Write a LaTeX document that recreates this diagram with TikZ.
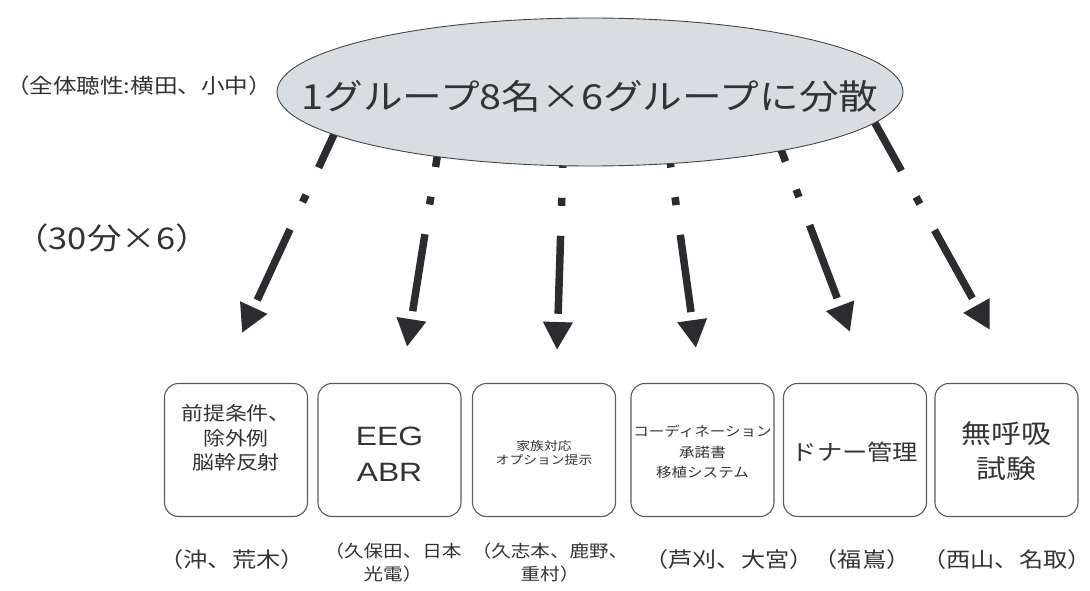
\documentclass[tikz,border=0pt]{standalone}
\usepackage{fontspec}
\setmainfont{Noto Sans CJK JP}[FakeStretch=1.15]
\newfontfamily\latinwide{Liberation Sans}[FakeStretch=1.2]
\usetikzlibrary{arrows.meta,shapes.geometric}
\definecolor{ink}{HTML}{333333}
\definecolor{arrowc}{HTML}{2B2B30}
\definecolor{efill}{HTML}{D7DDE1}
\definecolor{eline}{HTML}{454545}
\definecolor{boxline}{HTML}{5A5A5A}
\pgfdeclarelayer{behind}
\pgfsetlayers{behind,main}
\begin{document}
\begin{tikzpicture}[x=1pt,y=-1pt,
  box/.style={draw=boxline, line width=1.1pt, rounded corners=14pt,
    minimum width=143pt, minimum height=133pt, inner sep=0pt},
  txt/.style={text=ink, align=center, inner sep=0pt},
  flow/.style={draw=arrowc, line width=7.5pt,
    {Triangle[length=28pt,width=28pt]}-,
    dash pattern=on 78pt off 30pt on 8pt off 30pt on 1000pt off 10pt,
    dash phase=1146pt}
]
\useasboundingbox (0,0) rectangle (1090,591);

% central ellipse
\node[ellipse, draw=eline, line width=0.9pt, fill=efill,
  minimum width=626pt, minimum height=148pt, inner sep=0pt] (grp) at (590,92) {};
\node[txt, font=\fontsize{34.5}{40}\selectfont] (title) at (590,96) {1グループ8名×6グループに分散};

\node[txt, font=\fontsize{20.5}{26}\selectfont] (all) at (139,86) {（全体聴性:横田、小中）};
\node[txt, font=\fontsize{30}{34}\selectfont] (time) at (112,238) {（30分×6）};

% boxes
\node[box] (b1) at (236,450) {};
\node[box] (b2) at (389.5,450) {};
\node[box] (b3) at (544,450) {};
\node[box] (b4) at (702.5,450) {};
\node[box] (b5) at (855,450) {};
\node[box] (b6) at (1006.5,450) {};

\node[txt, font=\fontsize{19}{24.5}\selectfont] (t1) at (236,438) {前提条件、\\除外例\\脳幹反射};
\node[txt, font=\latinwide\fontsize{26.5}{36}\selectfont] (t2) at (389.5,454) {EEG\\ABR};
\node[txt, font=\fontsize{12}{14}\selectfont] (t3) at (544,453) {家族対応\\オプション提示};
\node[txt, font=\fontsize{13.5}{20.5}\selectfont] (t4) at (702.5,452) {コーディネーション\\承諾書\\移植システム};
\node[txt, font=\fontsize{22}{26}\selectfont] (t5) at (855,452) {ドナー管理};
\node[txt, font=\fontsize{26}{35}\selectfont] (t6) at (1006.5,451) {無呼吸\\試験};

% names below
\node[txt, font=\fontsize{21}{26}\selectfont] (n1) at (232,560) {（沖、荒木）};
\node[txt, font=\fontsize{17}{23}\selectfont] (n2) at (393,563) {（久保田、日本\\光電）};
\node[txt, font=\fontsize{17}{23}\selectfont] (n3) at (550,563) {（久志本、鹿野、\\重村）};
\node[txt, font=\fontsize{21}{26}\selectfont] (n4) at (729,560) {（芦刈、大宮）};
\node[txt, font=\fontsize{21}{26}\selectfont] (n5) at (862,560) {（福嶌）};
\node[txt, font=\fontsize{21}{26}\selectfont] (n6) at (1007,560) {（西山、名取）};

% arrow ends
\coordinate (s1) at (349,102); \coordinate (e1) at (242,333);
\coordinate (s2) at (447,95);  \coordinate (e2) at (407,347);
\coordinate (s3) at (565,95);  \coordinate (e3) at (557,350);
\coordinate (s4) at (661,96);  \coordinate (e4) at (696,348);
\coordinate (s5) at (760,94);  \coordinate (e5) at (850,332);
\coordinate (s6) at (866,107); \coordinate (e6) at (990,330);

\begin{pgfonlayer}{behind}
\foreach \i in {1,...,6} {\draw[flow] (e\i) -- (s\i);}
\end{pgfonlayer}
\end{tikzpicture}
\end{document}
